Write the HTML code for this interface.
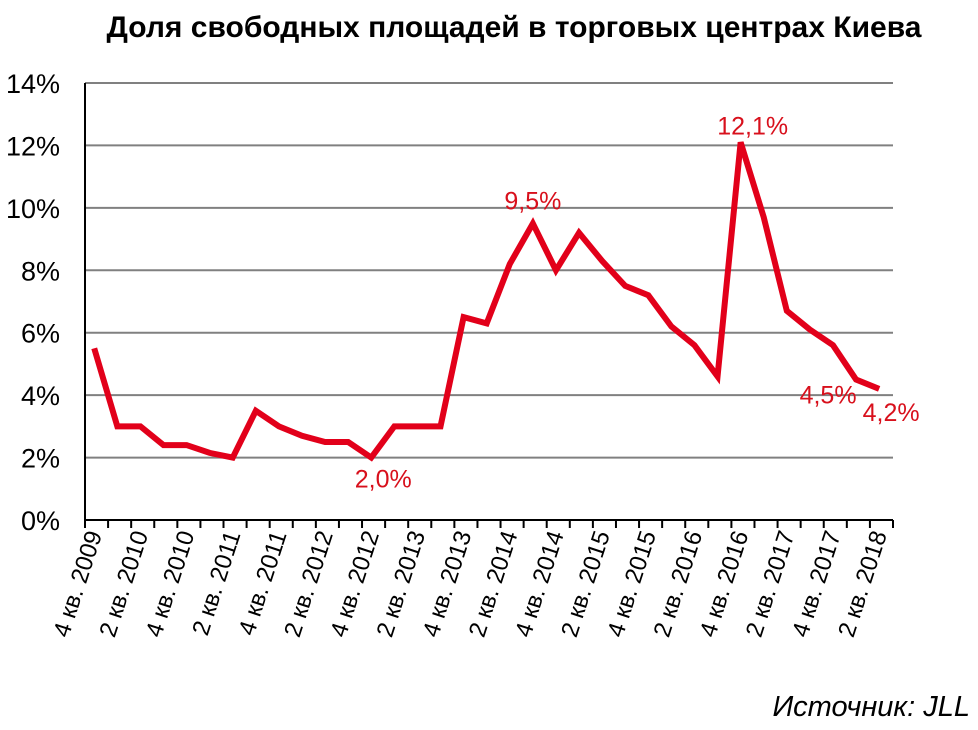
<!DOCTYPE html>
<html><head><meta charset="utf-8"><style>
body{margin:0;background:#fff;width:978px;height:725px;overflow:hidden;font-family:"Liberation Sans",sans-serif}
</style></head><body>
<svg id="chart" width="978" height="725" xmlns="http://www.w3.org/2000/svg" font-family="Liberation Sans, sans-serif">
<text x="514" y="37" text-anchor="middle" font-size="30" font-weight="bold" fill="#000">Доля свободных площадей в торговых центрах Киева</text>
<g id="grid"></g><g id="yt"></g><g id="xt"></g><g id="line"></g><g id="lbl"></g>
<text x="970" y="716" text-anchor="end" font-size="29" font-style="italic" fill="#000">Источник: JLL</text>
</svg>
<script>
const categories=["4 кв. 2009","1 кв. 2010","2 кв. 2010","3 кв. 2010","4 кв. 2010","1 кв. 2011","2 кв. 2011","3 кв. 2011","4 кв. 2011","1 кв. 2012","2 кв. 2012","3 кв. 2012","4 кв. 2012","1 кв. 2013","2 кв. 2013","3 кв. 2013","4 кв. 2013","1 кв. 2014","2 кв. 2014","3 кв. 2014","4 кв. 2014","1 кв. 2015","2 кв. 2015","3 кв. 2015","4 кв. 2015","1 кв. 2016","2 кв. 2016","3 кв. 2016","4 кв. 2016","1 кв. 2017","2 кв. 2017","3 кв. 2017","4 кв. 2017","1 кв. 2018","2 кв. 2018"];
const values=[5.5,3.0,3.0,2.4,2.4,2.15,2.0,3.5,3.0,2.7,2.5,2.5,2.0,3.0,3.0,3.0,6.5,6.3,8.2,9.5,8.0,9.2,8.3,7.5,7.2,6.2,5.6,4.6,12.1,9.7,6.7,6.1,5.6,4.5,4.2];
const yTicks=[0,2,4,6,8,10,12,14];
const annotations=[{i:12,text:"2,0%",dx:12,dy:30},{i:19,text:"9,5%",dx:0,dy:-14},{i:28,text:"12,1%",dx:12,dy:-8},{i:33,text:"4,5%",dx:-28,dy:24},{i:34,text:"4,2%",dx:12,dy:32}];
const NS="http://www.w3.org/2000/svg";
const X0=85,X1=893,Y0=520,Y1=83;
const n=categories.length,bw=(X1-X0)/n;
const xS=i=>X0+bw*(i+0.4);
const yS=v=>Y0-(v/14)*(Y0-Y1);
function mk(t,a,p){const e=document.createElementNS(NS,t);for(const k in a)e.setAttribute(k,a[k]);p.appendChild(e);return e;}
const g=document.getElementById('grid'),yt=document.getElementById('yt'),xt=document.getElementById('xt');
yTicks.forEach(v=>{
 if(v>0){const l=mk('line',{x1:X0,x2:X1,y1:yS(v),y2:yS(v),stroke:'#808080','stroke-width':2},g);
 
 }
 const t=mk('text',{x:60,y:yS(v)+10,'text-anchor':'end','font-size':27,fill:'#000'},yt);
 t.textContent=v+'%';
 
 
});
const ax=mk('line',{x1:X0,x2:X0,y1:Y1,y2:Y0+1,stroke:'#000','stroke-width':2},g);


const bx=mk('line',{x1:X0,x2:X1,y1:Y0,y2:Y0,stroke:'#000','stroke-width':2},g);


for(let i=0;i<=n;i++){const l=mk('line',{x1:X0+bw*i,x2:X0+bw*i,y1:Y0,y2:Y0+8,stroke:'#000','stroke-width':2},xt);
 
 }
categories.forEach((c,i)=>{if(i%2)return;
 const x=xS(i)+8,y=Y0+14;
 const t=mk('text',{x:x,y:y,'text-anchor':'end','font-size':24,fill:'#000',transform:`rotate(-72 ${x} ${y})`},xt);
 t.textContent=c;
 
 
});
const p=mk('polyline',{points:values.map((v,i)=>xS(i)+','+yS(v)).join(' '),fill:'none',stroke:'#e2001a','stroke-width':6,'stroke-linejoin':'miter'},document.getElementById('line'));


annotations.forEach(a=>{
 const t=mk('text',{x:xS(a.i)+a.dx,y:yS(values[a.i])+a.dy,'text-anchor':'middle','font-size':25,fill:'#d8101c'},document.getElementById('lbl'));
 t.textContent=a.text;
 
 
});
</script>
</body></html>
